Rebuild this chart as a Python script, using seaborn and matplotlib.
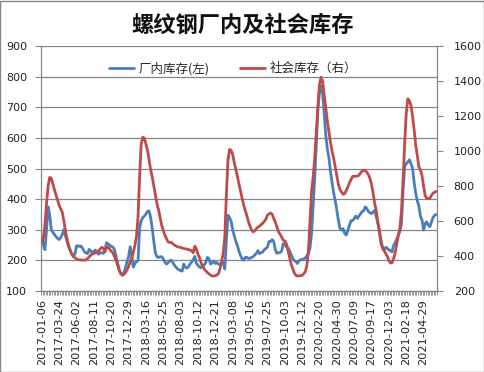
import numpy as np
import pandas as pd
import matplotlib
matplotlib.use("Agg")
import matplotlib.pyplot as plt
import seaborn as sns
from matplotlib.patches import Rectangle

# ---------------- data ----------------
tick_labels = ["2017-01-06", "2017-03-24", "2017-06-02", "2017-08-11", "2017-10-20",
               "2017-12-29", "2018-03-16", "2018-05-25", "2018-08-03", "2018-10-12",
               "2018-12-21", "2019-03-08", "2019-05-16", "2019-07-25", "2019-10-03",
               "2019-12-12", "2020-02-20", "2020-04-30", "2020-07-09", "2020-09-17",
               "2020-12-03", "2021-02-18", "2021-04-29"]

factory_stock = [
    277, 250, 235, 300, 375, 350, 300, 292, 285, 278,
    272, 268, 275, 285, 301, 280, 262, 245, 232, 222,
    214, 220, 247, 248, 246, 247, 238, 228, 225, 222,
    236, 232, 224, 230, 234, 226, 220, 224, 225, 223,
    230, 258, 254, 250, 246, 244, 236, 215, 192, 172,
    158, 152, 160, 175, 195, 212, 245, 218, 178, 190,
    196, 200, 305, 330, 340, 345, 352, 360, 362, 340,
    305, 262, 225, 212, 210, 212, 212, 205, 195, 188,
    192, 198, 201, 193, 185, 178, 172, 170, 166, 165,
    188, 177, 175, 180, 188, 195, 203, 213, 190, 184,
    178, 176, 180, 185, 195, 210, 205, 188, 192, 198,
    190, 193, 188, 185, 195, 193, 172, 265, 348, 340,
    328, 300, 280, 262, 248, 230, 215, 205, 201, 210,
    210, 207, 207, 210, 212, 218, 223, 232, 222, 225,
    228, 235, 239, 243, 262, 261, 268, 262, 235, 223,
    225, 226, 230, 255, 250, 245, 242, 232, 220, 208,
    200, 196, 190, 198, 202, 203, 205, 208, 215, 222,
    240, 290, 380, 470, 580, 690, 750, 770, 745, 680,
    610, 565, 535, 490, 455, 420, 395, 365, 330, 305,
    299, 304, 288, 283, 299, 315, 330, 330, 337, 345,
    337, 345, 352, 360, 362, 375, 370, 360, 356, 353,
    358, 364, 342, 321, 299, 268, 242, 234, 243, 240,
    234, 232, 228, 248, 258, 270, 282, 295, 321, 429,
    505, 516, 522, 529, 516, 502, 455, 420, 395, 378,
    345, 332, 299, 321, 326, 315, 310, 326, 340, 348,
    350]

social_stock = [
    482, 500, 580, 700, 800, 850, 845, 815, 780, 750,
    720, 690, 670, 650, 600, 545, 500, 460, 435, 410,
    398, 390, 383, 380, 378, 377, 377, 377, 378, 385,
    395, 405, 411, 415, 419, 423, 428, 440, 450, 445,
    424, 450, 450, 440, 428, 418, 400, 377, 350, 320,
    300, 291, 295, 305, 320, 340, 365, 390, 420, 460,
    510, 624, 850, 1040, 1080, 1075, 1040, 1005, 950, 895,
    852, 800, 750, 700, 665, 620, 575, 548, 520, 501,
    482, 477, 479, 470, 463, 458, 453, 451, 449, 446,
    443, 441, 440, 437, 434, 430, 419, 457, 440, 410,
    390, 360, 340, 325, 315, 305, 298, 290, 286, 286,
    287, 292, 300, 329, 368, 415, 510, 750, 948, 1010,
    1005, 980, 935, 895, 855, 810, 770, 730, 690, 660,
    630, 596, 570, 548, 538, 545, 557, 565, 571, 580,
    587, 598, 610, 634, 640, 646, 640, 615, 595, 567,
    540, 525, 510, 491, 487, 471, 434, 395, 355, 330,
    305, 290, 286, 286, 288, 290, 298, 310, 345, 430,
    600, 770, 850, 960, 1110, 1260, 1380, 1423, 1400, 1320,
    1250, 1170, 1110, 1050, 1000, 960, 910, 860, 810, 780,
    765, 753, 757, 776, 795, 820, 837, 856, 856, 856,
    858, 862, 875, 885, 891, 888, 880, 865, 845, 810,
    760, 700, 660, 596, 535, 471, 445, 430, 415, 398,
    375, 360, 362, 385, 420, 470, 520, 560, 662, 834,
    1044, 1213, 1299, 1290, 1262, 1200, 1125, 1035, 976, 910,
    893, 860, 800, 745, 730, 729, 730, 748, 760, 765,
    770]

series_names = ["厂内库存(左)", "社会库存（右）"]
label_step = 11

# ---------------- style ----------------
sns.set_theme(style="white")
plt.rcParams['font.family'] = ['DejaVu Sans', 'Noto Sans CJK SC']
cjk = ['Noto Sans CJK SC', 'DejaVu Sans']

blue = "#4A7EBB"
red = "#BE4B48"
grid_c = "#868686"

n = len(factory_stock)
df = pd.DataFrame({"idx": np.arange(n), "factory": factory_stock, "social": social_stock})

fig = plt.figure(figsize=(4.85, 3.72), dpi=100)
ax = fig.add_axes([41 / 485, 1 - 291 / 372, 396 / 485, (291 - 46.3) / 372])
ax2 = ax.twinx()

sns.lineplot(data=df, x="idx", y="factory", ax=ax, color=blue, linewidth=2.0, legend=False)
sns.lineplot(data=df, x="idx", y="social", ax=ax2, color=red, linewidth=2.0, legend=False)

ax.set_xlim(-0.5, n - 0.5)
ax.set_ylim(100, 900)
ax2.set_ylim(200, 1600)
ax.set_yticks(np.arange(100, 901, 100))
ax2.set_yticks(np.arange(200, 1601, 200))

ax.yaxis.grid(True, color=grid_c, linewidth=0.9)
ax.set_axisbelow(True)
ax.set_xlabel("")
ax.set_ylabel("")
ax2.set_ylabel("")

# x ticks
pos = np.arange(0, n, label_step)[:len(tick_labels)]
ax.set_xticks(pos)
ax.set_xticklabels(tick_labels, rotation=90, fontsize=8.2, color="#222222")
ax.set_xticks(np.arange(-0.5, n, 1), minor=True)
ax.tick_params(axis="x", which="major", length=0, pad=6)
ax.tick_params(axis="x", which="minor", length=3, width=0.6, color=grid_c, direction="out", bottom=True)

ax.tick_params(axis="y", which="major", labelsize=8, length=4, width=0.8, color=grid_c,
               direction="out", left=True, pad=6, labelcolor="#222222")
ax2.tick_params(axis="y", which="major", labelsize=8, length=4, width=0.8, color=grid_c,
                direction="out", right=True, pad=8, labelcolor="#222222")

for a in (ax, ax2):
    a.spines["top"].set_visible(False)
    for s in ("left", "right", "bottom"):
        a.spines[s].set_color(grid_c)
        a.spines[s].set_linewidth(0.9)
ax.spines["right"].set_visible(False)
ax2.spines["left"].set_visible(False)
ax2.spines["bottom"].set_visible(False)

# legend
h1 = plt.Line2D([], [], color=blue, linewidth=2.0)
h2 = plt.Line2D([], [], color=red, linewidth=2.0)
ax2.legend([h1, h2], series_names, loc="center", bbox_to_anchor=(0.485, 0.91), ncol=2,
           frameon=False, prop={"family": cjk, "size": 9}, handlelength=2.0,
           columnspacing=2.4, handletextpad=0.4)

fig.text(0.5, 1 - 25 / 372, "螺纹钢厂内及社会库存", ha="center", va="center",
         fontsize=16, fontweight="bold", family=cjk, color="#111111")

fig.patches.append(Rectangle((0.001, 0.001), 0.997, 0.997, transform=fig.transFigure,
                             fill=False, edgecolor="#888888", linewidth=1.0))

fig.savefig("out.png", dpi=100)
